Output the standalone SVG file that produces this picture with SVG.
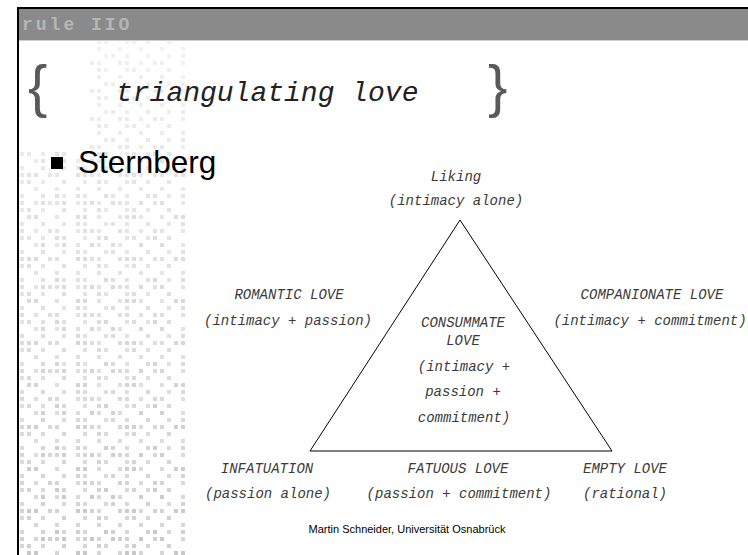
<svg xmlns="http://www.w3.org/2000/svg" width="748" height="555" viewBox="0 0 748 555">
<style>
.lbl{font-family:"Liberation Mono","Courier New",monospace;font-style:italic;font-size:14px;fill:#3a3a3a;text-anchor:middle}
.title{font-family:"Liberation Mono","Courier New",monospace;font-style:italic;font-size:28px;fill:#222}
.brace{font-family:"Liberation Sans",Arial,sans-serif;font-size:58px;fill:#5a5a5a}
.edge{fill:none;stroke:#000;stroke-width:1}
</style>
<defs>
<pattern id="pA" x="20" y="40" width="21" height="14" patternUnits="userSpaceOnUse">
<rect x="0" y="0" width="4" height="4" fill="#d6d6d6"/>
<rect x="14" y="7" width="4" height="4" fill="#d6d6d6"/>
</pattern>
<pattern id="pB" x="20" y="40" width="35" height="28" patternUnits="userSpaceOnUse">
<rect x="7" y="0" width="4" height="4" fill="#d0d0d0"/>
<rect x="21" y="14" width="4" height="4" fill="#d0d0d0"/>
<rect x="28" y="21" width="4" height="4" fill="#d0d0d0"/>
<rect x="0" y="21" width="4" height="4" fill="#d0d0d0"/>
</pattern>
<pattern id="pC" x="20" y="40" width="49" height="42" patternUnits="userSpaceOnUse">
<rect x="7" y="7" width="4" height="4" fill="#c8c8c8"/>
<rect x="14" y="7" width="4" height="4" fill="#c8c8c8"/>
<rect x="35" y="28" width="4" height="4" fill="#c8c8c8"/>
<rect x="42" y="35" width="4" height="4" fill="#c8c8c8"/>
<rect x="21" y="35" width="4" height="4" fill="#c8c8c8"/>
</pattern>
<linearGradient id="fade" x1="0" y1="0" x2="0" y2="1">
<stop offset="0" stop-color="#fff" stop-opacity="0.3"/>
<stop offset="0.3" stop-color="#fff" stop-opacity="0.55"/>
<stop offset="1" stop-color="#fff" stop-opacity="1"/>
</linearGradient>
<mask id="m">
<rect x="19" y="40" width="168" height="515" fill="url(#fade)"/>
<rect x="19" y="40" width="70" height="110" fill="#000"/>
</mask>
</defs>
<rect width="748" height="555" fill="#fff"/>
<g id="background" mask="url(#m)">
<rect x="19" y="40" width="168" height="515" fill="url(#pA)"/>
<rect x="19" y="40" width="168" height="515" fill="url(#pB)"/>
<rect x="19" y="150" width="168" height="405" fill="url(#pC)"/>
</g>
<g id="frame">
<rect x="19" y="9" width="729" height="31" fill="#8a8a8a"/>
<rect x="19" y="40" width="729" height="1" fill="#cfcfcf"/>
<rect x="17" y="7" width="731" height="2" fill="#000"/>
<rect x="17" y="7" width="2" height="548" fill="#000"/>
<text x="22" y="30" font-family="'Liberation Mono',monospace" font-weight="bold" font-size="18" fill="#b6b6b6" letter-spacing="3">rule IIO</text>
</g>
<g id="title">
<text class="brace" x="28" y="106">{</text>
<text class="title" x="116" y="101">triangulating love</text>
<text class="brace" x="488" y="106">}</text>
</g>
<g id="bullet">
<rect x="51" y="157" width="12" height="12" fill="#000"/>
<text x="78" y="173" font-family="'Liberation Sans',Arial,sans-serif" font-size="31.5" fill="#000">Sternberg</text>
</g>
<g id="connectors">
<polygon class="edge" points="460,220 310,451 612,451"/>
</g>
<g id="liking">
<text class="lbl" x="456" y="181">Liking</text>
<text class="lbl" x="456" y="205">(intimacy alone)</text>
</g>
<g id="romantic">
<text class="lbl" x="289" y="299">ROMANTIC LOVE</text>
<text class="lbl" x="288" y="325">(intimacy + passion)</text>
</g>
<g id="companionate">
<text class="lbl" x="652" y="299">COMPANIONATE LOVE</text>
<text class="lbl" x="650" y="325">(intimacy + commitment)</text>
</g>
<g id="consummate">
<text class="lbl" x="463" y="327">CONSUMMATE</text>
<text class="lbl" x="463" y="345">LOVE</text>
<text class="lbl" x="464" y="371">(intimacy +</text>
<text class="lbl" x="463" y="396">passion +</text>
<text class="lbl" x="464" y="422">commitment)</text>
</g>
<g id="infatuation">
<text class="lbl" x="267" y="473">INFATUATION</text>
<text class="lbl" x="268" y="498">(passion alone)</text>
</g>
<g id="fatuous">
<text class="lbl" x="458" y="473">FATUOUS LOVE</text>
<text class="lbl" x="459" y="498">(passion + commitment)</text>
</g>
<g id="empty">
<text class="lbl" x="625" y="473">EMPTY LOVE</text>
<text class="lbl" x="625" y="498">(rational)</text>
</g>
<g id="footer">
<text x="407" y="533" font-family="'Liberation Sans',Arial,sans-serif" font-size="11" fill="#000" text-anchor="middle">Martin Schneider, Universität Osnabrück</text>
</g>
</svg>
